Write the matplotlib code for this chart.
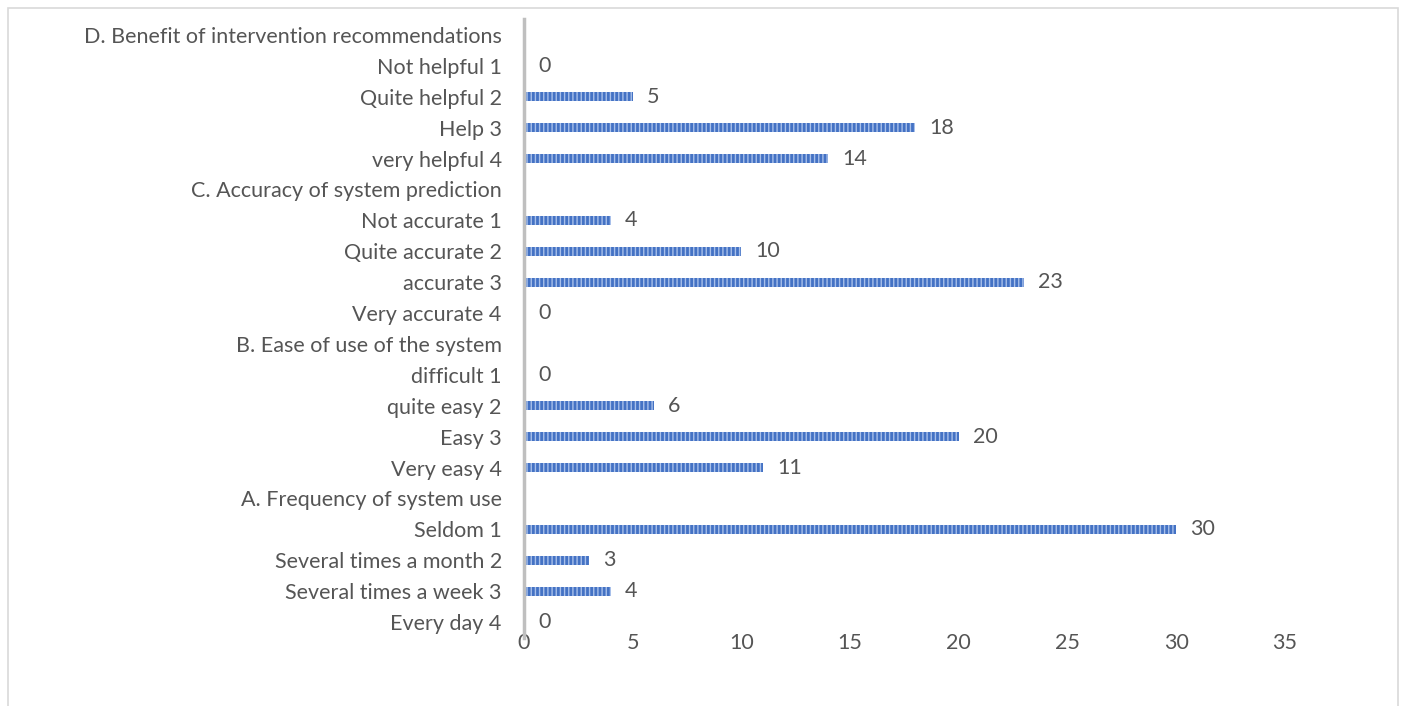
import numpy as np
import matplotlib.pyplot as plt
from matplotlib.patches import Rectangle

# Data (top to bottom as shown in the chart); headers have no bar
labels = [
    "D. Benefit of intervention recommendations",
    "Not helpful 1", "Quite helpful 2", "Help 3", "very helpful 4",
    "C. Accuracy of system prediction",
    "Not accurate 1", "Quite accurate 2", "accurate 3", "Very accurate 4",
    "B. Ease of use of the system",
    "difficult 1", "quite easy 2", "Easy 3", "Very easy 4",
    "A. Frequency of system use",
    "Seldom 1", "Several times a month 2", "Several times a week 3", "Every day 4",
]
counts = [
    np.nan,
    0, 5, 18, 14,
    np.nan,
    4, 10, 23, 0,
    np.nan,
    0, 6, 20, 11,
    np.nan,
    30, 3, 4, 0,
]
x_ticks = [0, 5, 10, 15, 20, 25, 30, 35]

text_color = "#555555"
fs = 15.5
plt.rcParams["font.family"] = ["Lato", "DejaVu Sans"]
plt.rcParams["hatch.linewidth"] = 1.0
plt.rcParams["hatch.color"] = "#A8C0EA"

fig = plt.figure(figsize=(14.02, 7.06), dpi=100)
ax = fig.add_axes([524 / 1402, 1 - 637.5 / 706, (1285 - 524) / 1402, (637.5 - 19.5) / 706])

y = np.arange(len(labels))
vals = np.nan_to_num(counts)
ax.barh(y, vals, height=0.3, color="#4472C4", hatch="||||", edgecolor="#A8C0EA", linewidth=0)

for yi, v in zip(y, counts):
    if np.isnan(v):
        continue
    ax.annotate(f"{int(v)}", (v, yi), xytext=(10, 0), textcoords="offset points",
                va="center", ha="left", fontsize=fs, color=text_color)

ax.set_ylim(len(labels) - 0.5, -0.5)
ax.set_xlim(0, 35)
ax.set_yticks(y)
ax.set_yticklabels(labels)
ax.set_xticks(x_ticks)
ax.tick_params(axis="both", length=0, labelsize=fs, colors=text_color)
ax.tick_params(axis="y", pad=16)
ax.tick_params(axis="x", pad=-3)

for s in ["top", "right", "bottom"]:
    ax.spines[s].set_visible(False)
ax.spines["left"].set_color("#BFBFBF")
ax.spines["left"].set_linewidth(2.5)

# light frame around the chart area
fig.patches.append(Rectangle((8 / 1402, -0.02), (1398 - 8) / 1402, 1.02 - 8 / 706,
                             transform=fig.transFigure, fill=False,
                             edgecolor="#D9D9D9", linewidth=1.2))

fig.savefig("out.png", dpi=100)
